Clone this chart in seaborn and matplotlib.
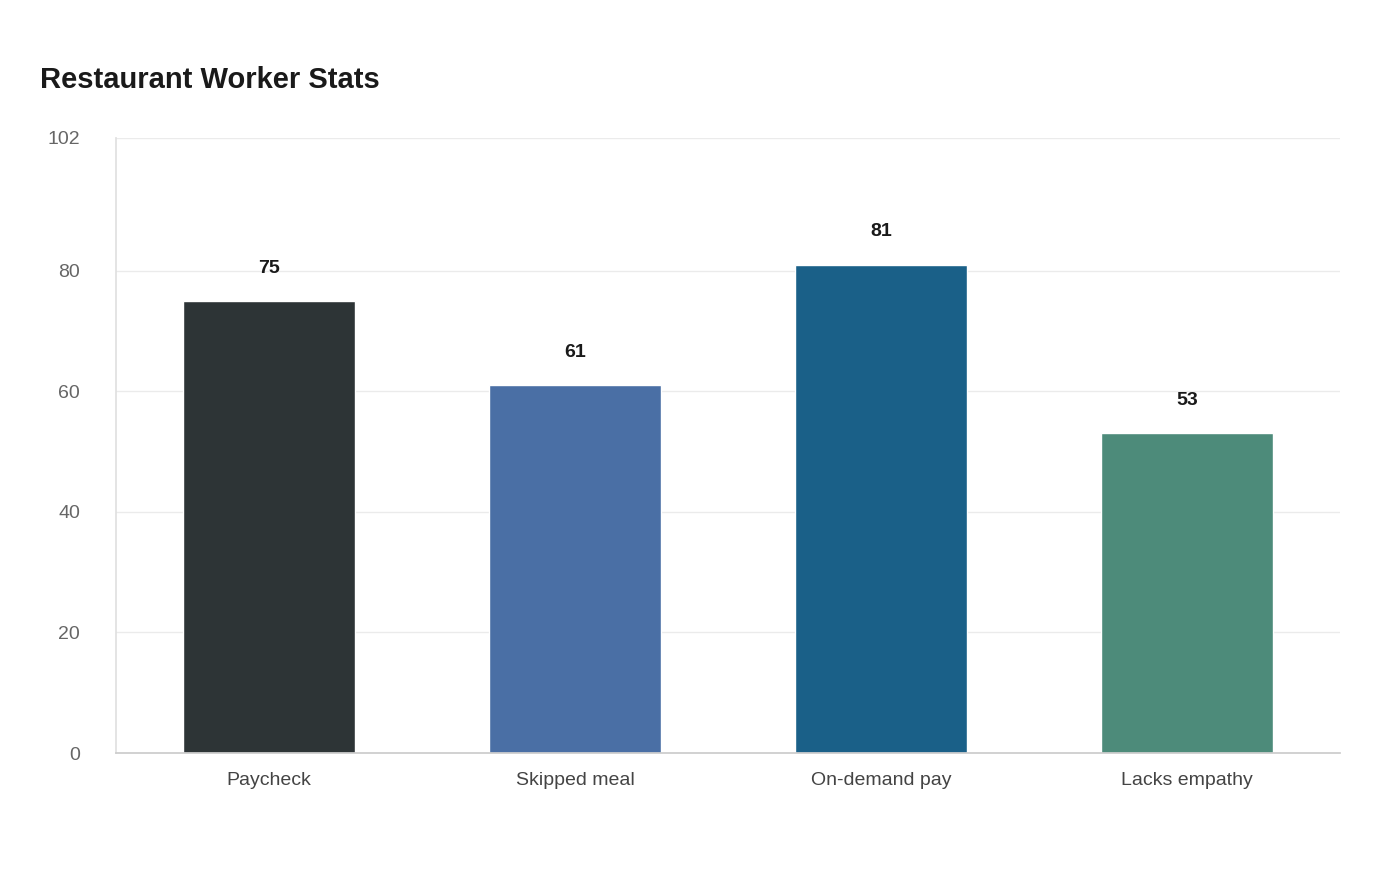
import matplotlib
matplotlib.use("Agg")
import matplotlib.pyplot as plt
import seaborn as sns
import pandas as pd

categories = ["Paycheck", "Skipped meal", "On-demand pay", "Lacks empathy"]
values = [75, 61, 81, 53]
colors = ["#2d3436", "#4a6fa5", "#1a6088", "#4d8b7a"]
yticks = [0, 20, 40, 60, 80, 102]

sns.set_theme(style="white")
plt.rcParams['font.family'] = ['Liberation Sans', 'DejaVu Sans']

fig = plt.figure(figsize=(14, 8.8), dpi=100)
ax = fig.add_axes([116/1400, 1-753/880, (1340-116)/1400, (753-138)/880])
df = pd.DataFrame({"cat": categories, "val": values})
sns.barplot(data=df, x="cat", y="val", hue="cat", palette=colors, width=0.56,
            ax=ax, legend=False, saturation=1)
ax.set_xlim(-0.5, 3.5)
ax.set_ylim(0, 102)
ax.set_yticks(yticks)
ax.set_yticklabels([str(t) for t in yticks], color="#666666", fontsize=14)
ax.tick_params(axis='x', labelsize=14, labelcolor="#444444", pad=14, length=0)
ax.tick_params(axis='y', pad=26, length=0)
ax.grid(axis='y', color="#ebebeb", linewidth=1)
ax.set_axisbelow(True)
ax.set_xlabel("")
ax.set_ylabel("")
for s in ["top", "right"]:
    ax.spines[s].set_visible(False)
ax.spines["left"].set_color("#e0e0e0")
ax.spines["bottom"].set_color("#cccccc")
for i, v in enumerate(values):
    ax.text(i, v + 4, str(v), ha="center", va="bottom", fontsize=14,
            fontweight="bold", color="#1a1a1a")
fig.text(40/1400, 1-80/880, "Restaurant Worker Stats", fontsize=21,
         fontweight="bold", color="#1a1a1a", va="center")
fig.savefig("out.png", dpi=100, facecolor="white")
